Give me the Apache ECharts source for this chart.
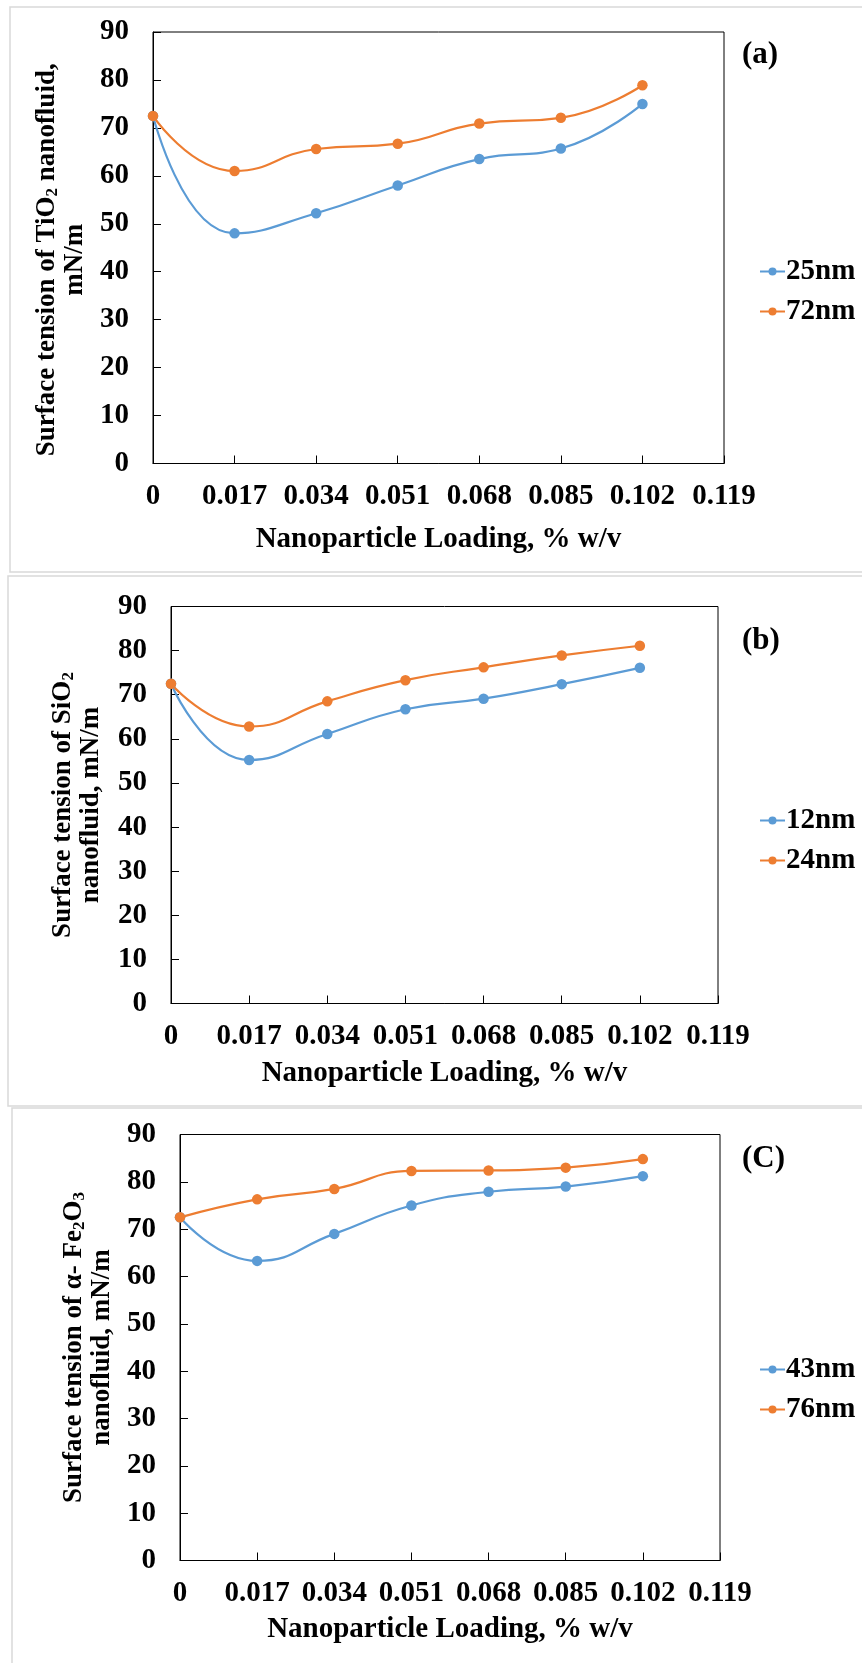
<!DOCTYPE html>
<html>
  <head>
    <meta charset="utf-8">
    <title>Surface tension of nanofluids</title>
    <script src="https://cdn.jsdelivr.net/npm/echarts@6/dist/echarts.min.js"></script>
    <style>
      html, body { margin: 0; padding: 0; background: #fff; }
      #main { width: 862px; height: 1663px; }
    </style>
  </head>
  <body>
    <div id="main"></div>
    <script type="text/javascript">
      // x values (% w/v) and tick labels
      var loading = [0, 0.017, 0.034, 0.051, 0.068, 0.085, 0.102];
      var xTickStep = 0.017;
      var xMax = 0.119;

      // (a) TiO2
      var tio2_25nm = [72.5, 48.0, 52.2, 58.0, 63.5, 65.7, 75.0];
      var tio2_72nm = [72.5, 61.0, 65.6, 66.7, 70.9, 72.1, 78.9];
      // (b) SiO2
      var sio2_12nm = [72.5, 55.2, 61.1, 66.7, 69.1, 72.4, 76.1];
      var sio2_24nm = [72.5, 62.8, 68.5, 73.3, 76.2, 78.9, 81.1];
      // (c) alpha-Fe2O3
      var fe2o3_43nm = [72.5, 63.3, 69.0, 75.0, 77.9, 79.0, 81.2];
      var fe2o3_76nm = [72.5, 76.3, 78.5, 82.3, 82.4, 83.0, 84.8];

      var font = 'Liberation Serif';
      var blue = '#5b9bd5';
      var orange = '#ed7d31';

      function pairs(ys) {
        var out = [];
        for (var i = 0; i < loading.length; i++) {
          out.push([loading[i], ys[i]]);
        }
        return out;
      }

      // panel layout: plot box + frame
      var panels = [
        { grid: { left: 153, top: 32, width: 571, height: 431.5 }, frame: [10, 7, 900, 565],
          yName: '{t|Surface tension of TiO}{s|2}{t| nanofluid,}\n{t|mN/m}', yGap: 62, xGap: 62, yPad: [0, 24, 0, 0],
          tag: '(a)', tagTop: 39, legendTop: 257,
          series: [['25nm', tio2_25nm, blue], ['72nm', tio2_72nm, orange]] },
        { grid: { left: 171, top: 606.5, width: 547, height: 397 }, frame: [8, 576, 900, 530],
          yName: '{t|Surface tension of SiO}{s|2}\n{t|nanofluid, mN/m}', yGap: 66, xGap: 56, yPad: 0,
          tag: '(b)', tagTop: 625, legendTop: 806,
          series: [['12nm', sio2_12nm, blue], ['24nm', sio2_24nm, orange]] },
        { grid: { left: 180, top: 1134.5, width: 540, height: 426 }, frame: [12, 1108, 900, 570],
          yName: '{t|Surface tension of \u03b1- Fe}{s|2}{t|O}{s|3}\n{t|nanofluid, mN/m}', yGap: 61, xGap: 55, yPad: 0,
          tag: '(C)', tagTop: 1143, legendTop: 1355,
          series: [['43nm', fe2o3_43nm, blue], ['76nm', fe2o3_76nm, orange]] }
      ];

      var myChart = echarts.init(document.getElementById('main'));

      var grids = [], xAxes = [], yAxes = [], series = [], legends = [], titles = [], graphics = [];

      panels.forEach(function (p, i) {
        graphics.push({
          type: 'rect', silent: true, z: -1,
          shape: { x: p.frame[0], y: p.frame[1], width: p.frame[2], height: p.frame[3] },
          style: { fill: '#fff', stroke: '#d9d9d9', lineWidth: 1.5 }
        });
        grids.push({
          left: p.grid.left, top: p.grid.top, width: p.grid.width, height: p.grid.height,
          show: true, borderColor: '#000', borderWidth: 1, backgroundColor: 'transparent'
        });
        xAxes.push({
          gridIndex: i, type: 'value', min: 0, max: xMax, interval: xTickStep,
          name: 'Nanoparticle Loading, % w/v', nameLocation: 'middle', nameGap: p.xGap,
          nameTextStyle: { fontFamily: font, fontSize: 29, fontWeight: 'bold', color: '#000' },
          axisLine: { onZero: false, lineStyle: { color: '#000', width: 1 } },
          axisTick: { inside: true, length: 8, lineStyle: { color: '#000' } },
          splitLine: { show: false },
          axisLabel: {
            margin: 19, fontFamily: font, fontSize: 29, fontWeight: 'bold', color: '#000',
            formatter: function (v) { return v === 0 ? '0' : v.toFixed(3); }
          }
        });
        yAxes.push({
          gridIndex: i, type: 'value', min: 0, max: 90, interval: 10,
          name: p.yName, nameLocation: 'middle', nameRotate: 90, nameGap: p.yGap,
          nameTextStyle: {
            fontFamily: font, fontSize: 27, fontWeight: 'bold', color: '#000', lineHeight: 28,
            padding: p.yPad,
            rich: {
              t: { fontFamily: font, fontSize: 27, fontWeight: 'bold', color: '#000', lineHeight: 28 },
              s: { fontFamily: font, fontSize: 17, fontWeight: 'bold', color: '#000', lineHeight: 28, verticalAlign: 'bottom' }
            }
          },
          axisLine: { lineStyle: { color: '#000', width: 1 } },
          axisTick: { inside: true, length: 8, lineStyle: { color: '#000' } },
          splitLine: { show: false },
          axisLabel: { margin: 24, fontFamily: font, fontSize: 29, fontWeight: 'bold', color: '#000' }
        });
        p.series.forEach(function (s) {
          series.push({
            name: s[0], type: 'line', xAxisIndex: i, yAxisIndex: i,
            data: pairs(s[1]), smooth: 0.5,
            symbol: 'circle', symbolSize: 10.5,
            itemStyle: { color: s[2] },
            lineStyle: { color: s[2], width: 2.2 }
          });
        });
        legends.push({
          data: p.series.map(function (s) { return s[0]; }),
          orient: 'vertical', left: 759, top: p.legendTop, padding: 0,
          itemWidth: 25, itemHeight: 10, itemGap: 11,
          textStyle: { fontFamily: font, fontSize: 29, fontWeight: 'bold', color: '#000', padding: [0, 0, 0, -4] }
        });
        titles.push({
          text: p.tag, left: 742, top: p.tagTop, padding: 0,
          textStyle: { fontFamily: font, fontSize: 31, fontWeight: 'bold', color: '#000' }
        });
      });

      var option = {
        animation: false,
        backgroundColor: '#fff',
        textStyle: { fontFamily: font },
        graphic: graphics,
        title: titles,
        legend: legends,
        grid: grids,
        xAxis: xAxes,
        yAxis: yAxes,
        series: series
      };
      myChart.setOption(option);
    </script>
  </body>
</html>
